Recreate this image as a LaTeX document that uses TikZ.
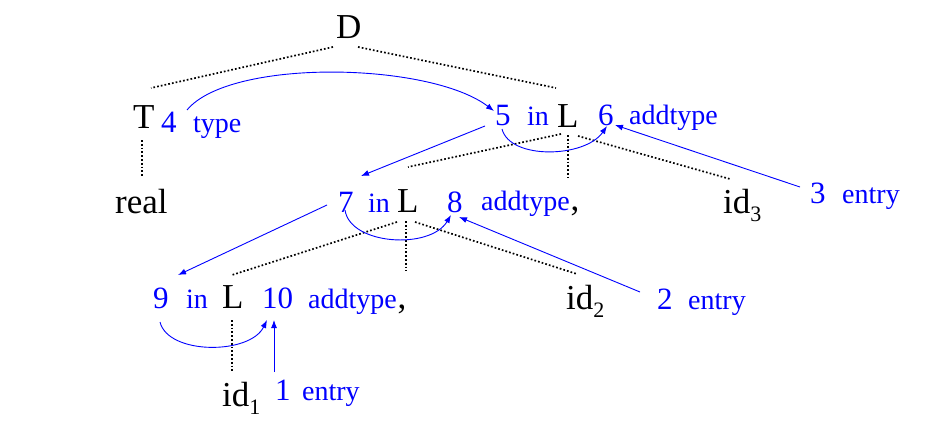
\documentclass[tikz,border=0pt]{standalone}
\usepackage{fontspec}
\setmainfont{Liberation Serif}
\usetikzlibrary{arrows.meta}
\definecolor{attrblue}{RGB}{0,0,255}
\tikzset{
  txt/.style={inner sep=0pt, anchor=base west},
  sym/.style={txt, font=\fontsize{35}{35}\selectfont},
  num/.style={txt, text=attrblue, font=\fontsize{31}{31}\selectfont},
  attr/.style={txt, text=attrblue, font=\fontsize{28}{28}\selectfont},
  treeedge/.style={line width=1.7pt, dash pattern=on 1.7pt off 2.1pt, black},
  depedge/.style={attrblue, line width=0.9pt, -{Latex[length=8pt,width=6pt]}},
}
\newcommand{\idsub}[1]{id\raisebox{-8pt}{\fontsize{22}{22}\selectfont #1}}
\begin{document}
\begin{tikzpicture}[x=1pt,y=-1pt]
\useasboundingbox (0,0) rectangle (933,420);
\fill[white] (0,0) rectangle (933,420);

% parse tree symbols
\node[sym] (D) at (336,38) {D};
\node[sym] (T) at (133,128) {T};
\node[sym] (real) at (115,213) {real};
\node[sym] (L1) at (557,127) {L};
\node[sym] (L2) at (397,212) {L};
\node[sym] (L3) at (222,308) {L};
\node[sym] (id3) at (723,213) {\idsub{3}};
\node[sym] (id2) at (566,309) {\idsub{2}};
\node[sym] (id1) at (222,406) {\idsub{1}};

% attribute instances
\node[num] (n4) at (161,132) {4};
\node[attr] (a4) at (193,132) {type};
\node[num] (n5) at (495,125) {5};
\node[attr] (a5) at (527,125) {in};
\node[num] (n6) at (598,125) {6};
\node[attr] (a6) at (629,124) {addtype};
\node[num] (n7) at (338,212) {7};
\node[attr] (a7) at (368,212) {in};
\node[num] (n8) at (447,212) {8};
\node[attr] (a8) at (481,210) {addtype};
\node[num] (n3) at (810,203) {3};
\node[attr] (a3) at (842,203) {entry};
\node[num] (n9) at (153,308) {9};
\node[attr] (a9) at (186,308) {in};
\node[num] (n10) at (262,308) {10};
\node[attr] (a10) at (308,308) {addtype};
\node[num] (n2) at (657,309) {2};
\node[attr] (a2) at (688,309) {entry};
\node[num] (n1) at (275,400) {1};
\node[attr] (a1) at (302,400) {entry};

% separating commas after the addtype labels
\node[sym] (c2) at ([xshift=0.5pt]a8.base east) {,};
\node[sym] (c3) at ([xshift=0.5pt]a10.base east) {,};

% tree edge end points
\coordinate (Dl) at (333,47);
\coordinate (Dr) at (358,47);
\coordinate (Ttop) at (151,88);
\coordinate (L1top) at (556,88);
\coordinate (Tbot) at (142,140);
\coordinate (realtop) at (142,177);
\coordinate (L1l) at (561,134);
\coordinate (L1m) at (568,135);
\coordinate (L1r) at (578,136);
\coordinate (L2top) at (408,167);
\coordinate (L1mid) at (568,178);
\coordinate (id3top) at (730,179);
\coordinate (L2l) at (397,222);
\coordinate (L2m) at (406,221);
\coordinate (L2r) at (415,222);
\coordinate (L3top) at (232,275);
\coordinate (L2mid) at (406,271);
\coordinate (id2top) at (577,274);
\coordinate (L3m) at (232,320);
\coordinate (id1top) at (232,371);

\draw[treeedge] (Dl) -- (Ttop);
\draw[treeedge] (Dr) -- (L1top);
\draw[treeedge] (Tbot) -- (realtop);
\draw[treeedge] (L1l) -- (L2top);
\draw[treeedge] (L1m) -- (L1mid);
\draw[treeedge] (L1r) -- (id3top);
\draw[treeedge] (L2l) -- (L3top);
\draw[treeedge] (L2m) -- (L2mid);
\draw[treeedge] (L2r) -- (id2top);
\draw[treeedge] (L3m) -- (id1top);

% dependency edge end points
\coordinate (p4) at (187,110);
\coordinate (q5) at (494,111);
\coordinate (p5a) at (485,126);
\coordinate (q7) at (361,176);
\coordinate (p5b) at (502,129);
\coordinate (q6a) at (607,126);
\coordinate (p3) at (800,187);
\coordinate (q6b) at (615,125);
\coordinate (p7a) at (327,205);
\coordinate (q9) at (178,275);
\coordinate (p7b) at (345,210);
\coordinate (q8a) at (451,215);
\coordinate (p2) at (640,292);
\coordinate (q8b) at (459,217);
\coordinate (p9) at (160,322);
\coordinate (q10a) at (267,320);
\coordinate (p1) at (274,372);
\coordinate (q10b) at (274,320);

\draw[depedge] (p4) .. controls (230,58) and (430,62) .. (q5);
\draw[depedge] (p5a) -- (q7);
\draw[depedge] (p5b) .. controls (510,160) and (585,158) .. (q6a);
\draw[depedge] (p3) -- (q6b);
\draw[depedge] (p7a) -- (q9);
\draw[depedge] (p7b) .. controls (350,245) and (430,250) .. (q8a);
\draw[depedge] (p2) -- (q8b);
\draw[depedge] (p9) .. controls (168,355) and (250,355) .. (q10a);
\draw[depedge] (p1) -- (q10b);
\end{tikzpicture}
\end{document}
